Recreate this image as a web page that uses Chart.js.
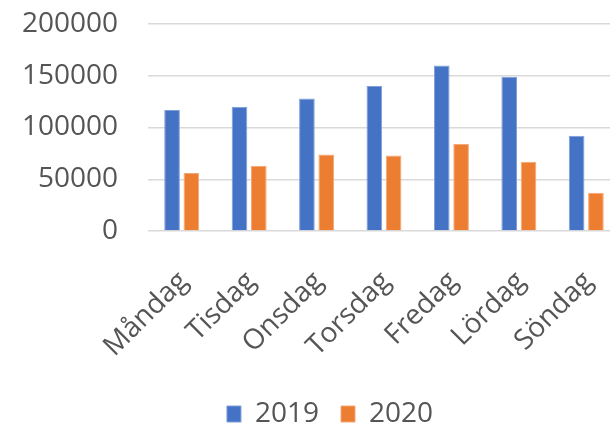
<!DOCTYPE html>
<html>
<head>
<meta charset="utf-8">
<script src="https://cdn.jsdelivr.net/npm/chart.js@4/dist/chart.umd.min.js"></script>
<style>
  html, body { margin: 0; padding: 0; background: #fff; overflow: hidden; }
  #wrap { width: 620px; height: 438px; }
</style>
</head>
<body>
<div id="wrap"><canvas id="c" width="620" height="438"></canvas></div>
<script>
// Besökare per veckodag
const days = ['Måndag', 'Tisdag', 'Onsdag', 'Torsdag', 'Fredag', 'Lördag', 'Söndag'];
const values2019 = [117000, 120000, 128000, 140000, 160000, 149000, 92000];
const values2020 = [56000, 63000, 74000, 73000, 84000, 67000, 37000];
const seriesNames = ['2019', '2020'];
const yTicks = [0, 50000, 100000, 150000, 200000];

const textColor = '#555555';
const fontFamily = '"Open Sans", "Noto Sans", sans-serif';

// centre the legend under the plot area rather than the whole canvas
const legendShift = {
  id: 'legendShift',
  afterLayout(chart) {
    if (chart.legend) chart.legend.left += 40;
  }
};

new Chart(document.getElementById('c'), {
  type: 'bar',
  data: {
    labels: days,
    datasets: [
      {
        label: seriesNames[0],
        data: values2019,
        backgroundColor: '#4472C4',
        borderColor: '#7f9fd9',
        borderWidth: 1
      },
      {
        label: seriesNames[1],
        data: values2020,
        backgroundColor: '#ED7D31',
        borderColor: '#f4a877',
        borderWidth: 1
      }
    ]
  },
  plugins: [legendShift],
  options: {
    responsive: false,
    animation: false,
    devicePixelRatio: 1,
    layout: { padding: { top: 24, right: 0, bottom: 0, left: 0 } },
    datasets: {
      bar: { categoryPercentage: 0.573, barPercentage: 0.81 }
    },
    plugins: {
      tooltip: { enabled: false },
      legend: {
        position: 'bottom',
        labels: {
          color: textColor,
          font: { family: fontFamily, size: 28 },
          boxWidth: 14,
          boxHeight: 16,
          padding: 22,
          useBorderRadius: false
        }
      }
    },
    scales: {
      x: {
        grid: { display: false, drawTicks: false },
        border: { display: false },
        ticks: {
          color: textColor,
          font: { family: fontFamily, size: 28 },
          minRotation: 45,
          maxRotation: 45,
          padding: 34,
          labelOffset: 2
        },
        afterFit(scale) {
          scale.height = 147;
          scale.paddingLeft = 0;
          scale.paddingRight = 0;
        }
      },
      y: {
        min: 0,
        max: 200000,
        afterBuildTicks(scale) { scale.ticks = yTicks.map(v => ({ value: v })); },
        grid: { color: '#d9d9d9', lineWidth: 1.5, drawTicks: false },
        border: { display: false },
        ticks: {
          color: textColor,
          font: { family: fontFamily, size: 28 },
          padding: 30,
          callback: (v) => String(v)
        },
        afterFit(scale) {
          scale.width = 148;
          scale.paddingTop = 0;
          scale.paddingBottom = 0;
        }
      }
    }
  }
});
</script>
</body>
</html>
